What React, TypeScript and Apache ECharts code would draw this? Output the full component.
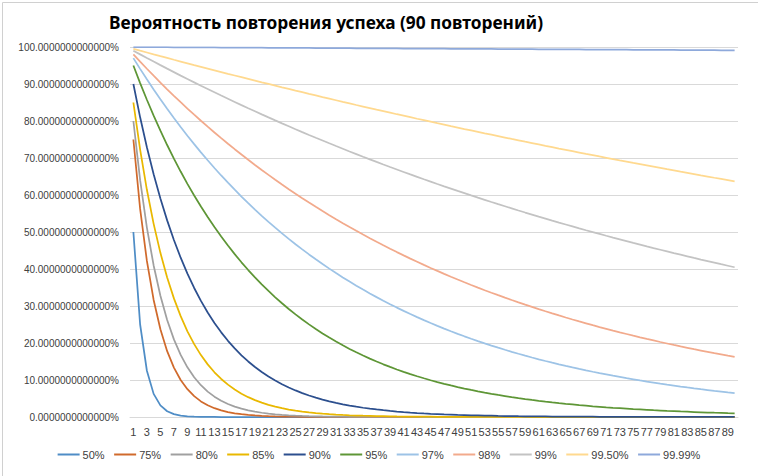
import React, { useEffect, useRef } from "react";
import * as echarts from "echarts";

const categories = [
  "1","2","3","4","5","6","7","8","9","10",
  "11","12","13","14","15","16","17","18","19","20",
  "21","22","23","24","25","26","27","28","29","30",
  "31","32","33","34","35","36","37","38","39","40",
  "41","42","43","44","45","46","47","48","49","50",
  "51","52","53","54","55","56","57","58","59","60",
  "61","62","63","64","65","66","67","68","69","70",
  "71","72","73","74","75","76","77","78","79","80",
  "81","82","83","84","85","86","87","88","89","90",
];

const seriesNames = ["50%", "75%", "80%", "85%", "90%", "95%", "97%", "98%", "99%", "99.50%", "99.99%"];

const s50 = [
  50, 25, 12.5, 6.25, 3.13, 1.56, 0.78, 0.39, 0.2, 0.1,
  0.05, 0.02, 0.01, 0, 0, 0, 0, 0, 0, 0,
  0, 0, 0, 0, 0, 0, 0, 0, 0, 0,
  0, 0, 0, 0, 0, 0, 0, 0, 0, 0,
  0, 0, 0, 0, 0, 0, 0, 0, 0, 0,
  0, 0, 0, 0, 0, 0, 0, 0, 0, 0,
  0, 0, 0, 0, 0, 0, 0, 0, 0, 0,
  0, 0, 0, 0, 0, 0, 0, 0, 0, 0,
  0, 0, 0, 0, 0, 0, 0, 0, 0, 0,
];

const s75 = [
  75, 56.25, 42.19, 31.64, 23.73, 17.8, 13.35, 10.01, 7.51, 5.63,
  4.22, 3.17, 2.38, 1.78, 1.34, 1, 0.75, 0.56, 0.42, 0.32,
  0.24, 0.18, 0.13, 0.1, 0.08, 0.06, 0.04, 0.03, 0.02, 0.02,
  0.01, 0.01, 0.01, 0, 0, 0, 0, 0, 0, 0,
  0, 0, 0, 0, 0, 0, 0, 0, 0, 0,
  0, 0, 0, 0, 0, 0, 0, 0, 0, 0,
  0, 0, 0, 0, 0, 0, 0, 0, 0, 0,
  0, 0, 0, 0, 0, 0, 0, 0, 0, 0,
  0, 0, 0, 0, 0, 0, 0, 0, 0, 0,
];

const s80 = [
  80, 64, 51.2, 40.96, 32.77, 26.21, 20.97, 16.78, 13.42, 10.74,
  8.59, 6.87, 5.5, 4.4, 3.52, 2.81, 2.25, 1.8, 1.44, 1.15,
  0.92, 0.74, 0.59, 0.47, 0.38, 0.3, 0.24, 0.19, 0.15, 0.12,
  0.1, 0.08, 0.06, 0.05, 0.04, 0.03, 0.03, 0.02, 0.02, 0.01,
  0.01, 0.01, 0.01, 0, 0, 0, 0, 0, 0, 0,
  0, 0, 0, 0, 0, 0, 0, 0, 0, 0,
  0, 0, 0, 0, 0, 0, 0, 0, 0, 0,
  0, 0, 0, 0, 0, 0, 0, 0, 0, 0,
  0, 0, 0, 0, 0, 0, 0, 0, 0, 0,
];

const s85 = [
  85, 72.25, 61.41, 52.2, 44.37, 37.71, 32.06, 27.25, 23.16, 19.69,
  16.73, 14.22, 12.09, 10.28, 8.74, 7.43, 6.31, 5.36, 4.56, 3.88,
  3.29, 2.8, 2.38, 2.02, 1.72, 1.46, 1.24, 1.06, 0.9, 0.76,
  0.65, 0.55, 0.47, 0.4, 0.34, 0.29, 0.24, 0.21, 0.18, 0.15,
  0.13, 0.11, 0.09, 0.08, 0.07, 0.06, 0.05, 0.04, 0.03, 0.03,
  0.03, 0.02, 0.02, 0.02, 0.01, 0.01, 0.01, 0.01, 0.01, 0,
  0, 0, 0, 0, 0, 0, 0, 0, 0, 0,
  0, 0, 0, 0, 0, 0, 0, 0, 0, 0,
  0, 0, 0, 0, 0, 0, 0, 0, 0, 0,
];

const s90 = [
  90, 81, 72.9, 65.61, 59.05, 53.14, 47.83, 43.05, 38.74, 34.87,
  31.38, 28.24, 25.42, 22.88, 20.59, 18.53, 16.68, 15.01, 13.51, 12.16,
  10.94, 9.85, 8.86, 7.98, 7.18, 6.46, 5.81, 5.23, 4.71, 4.24,
  3.82, 3.43, 3.09, 2.78, 2.5, 2.25, 2.03, 1.83, 1.64, 1.48,
  1.33, 1.2, 1.08, 0.97, 0.87, 0.79, 0.71, 0.64, 0.57, 0.52,
  0.46, 0.42, 0.38, 0.34, 0.3, 0.27, 0.25, 0.22, 0.2, 0.18,
  0.16, 0.15, 0.13, 0.12, 0.11, 0.1, 0.09, 0.08, 0.07, 0.06,
  0.06, 0.05, 0.05, 0.04, 0.04, 0.03, 0.03, 0.03, 0.02, 0.02,
  0.02, 0.02, 0.02, 0.01, 0.01, 0.01, 0.01, 0.01, 0.01, 0.01,
];

const s95 = [
  95, 90.25, 85.74, 81.45, 77.38, 73.51, 69.83, 66.34, 63.02, 59.87,
  56.88, 54.04, 51.33, 48.77, 46.33, 44.01, 41.81, 39.72, 37.74, 35.85,
  34.06, 32.35, 30.74, 29.2, 27.74, 26.35, 25.03, 23.78, 22.59, 21.46,
  20.39, 19.37, 18.4, 17.48, 16.61, 15.78, 14.99, 14.24, 13.53, 12.85,
  12.21, 11.6, 11.02, 10.47, 9.94, 9.45, 8.97, 8.53, 8.1, 7.69,
  7.31, 6.94, 6.6, 6.27, 5.95, 5.66, 5.37, 5.1, 4.85, 4.61,
  4.38, 4.16, 3.95, 3.75, 3.56, 3.39, 3.22, 3.06, 2.9, 2.76,
  2.62, 2.49, 2.37, 2.25, 2.13, 2.03, 1.93, 1.83, 1.74, 1.65,
  1.57, 1.49, 1.42, 1.35, 1.28, 1.21, 1.15, 1.1, 1.04, 0.99,
];

const s97 = [
  97, 94.09, 91.27, 88.53, 85.87, 83.3, 80.8, 78.37, 76.02, 73.74,
  71.53, 69.38, 67.3, 65.28, 63.33, 61.43, 59.58, 57.8, 56.06, 54.38,
  52.75, 51.17, 49.63, 48.14, 46.7, 45.3, 43.94, 42.62, 41.34, 40.1,
  38.9, 37.73, 36.6, 35.5, 34.44, 33.4, 32.4, 31.43, 30.49, 29.57,
  28.69, 27.83, 26.99, 26.18, 25.4, 24.64, 23.9, 23.18, 22.48, 21.81,
  21.16, 20.52, 19.9, 19.31, 18.73, 18.17, 17.62, 17.09, 16.58, 16.08,
  15.6, 15.13, 14.68, 14.24, 13.81, 13.4, 13, 12.61, 12.23, 11.86,
  11.51, 11.16, 10.83, 10.5, 10.19, 9.88, 9.58, 9.3, 9.02, 8.75,
  8.49, 8.23, 7.98, 7.74, 7.51, 7.29, 7.07, 6.86, 6.65, 6.45,
];

const s98 = [
  98, 96.04, 94.12, 92.24, 90.39, 88.58, 86.81, 85.08, 83.37, 81.71,
  80.07, 78.47, 76.9, 75.36, 73.86, 72.38, 70.93, 69.51, 68.12, 66.76,
  65.43, 64.12, 62.83, 61.58, 60.35, 59.14, 57.96, 56.8, 55.66, 54.55,
  53.46, 52.39, 51.34, 50.31, 49.31, 48.32, 47.35, 46.41, 45.48, 44.57,
  43.68, 42.8, 41.95, 41.11, 40.29, 39.48, 38.69, 37.92, 37.16, 36.42,
  35.69, 34.97, 34.27, 33.59, 32.92, 32.26, 31.61, 30.98, 30.36, 29.76,
  29.16, 28.58, 28.01, 27.45, 26.9, 26.36, 25.83, 25.32, 24.81, 24.31,
  23.83, 23.35, 22.88, 22.43, 21.98, 21.54, 21.11, 20.69, 20.27, 19.87,
  19.47, 19.08, 18.7, 18.32, 17.96, 17.6, 17.24, 16.9, 16.56, 16.23,
];

const s99 = [
  99, 98.01, 97.03, 96.06, 95.1, 94.15, 93.21, 92.27, 91.35, 90.44,
  89.53, 88.64, 87.75, 86.87, 86.01, 85.15, 84.29, 83.45, 82.62, 81.79,
  80.97, 80.16, 79.36, 78.57, 77.78, 77, 76.23, 75.47, 74.72, 73.97,
  73.23, 72.5, 71.77, 71.06, 70.34, 69.64, 68.94, 68.25, 67.57, 66.9,
  66.23, 65.56, 64.91, 64.26, 63.62, 62.98, 62.35, 61.73, 61.11, 60.5,
  59.89, 59.29, 58.7, 58.11, 57.53, 56.96, 56.39, 55.82, 55.26, 54.71,
  54.16, 53.62, 53.08, 52.55, 52.03, 51.51, 50.99, 50.48, 49.98, 49.48,
  48.98, 48.49, 48.01, 47.53, 47.05, 46.58, 46.11, 45.65, 45.2, 44.75,
  44.3, 43.86, 43.42, 42.98, 42.55, 42.13, 41.71, 41.29, 40.88, 40.47,
];

const s995 = [
  99.5, 99, 98.51, 98.01, 97.52, 97.04, 96.55, 96.07, 95.59, 95.11,
  94.64, 94.17, 93.7, 93.23, 92.76, 92.3, 91.84, 91.38, 90.92, 90.46,
  90.01, 89.56, 89.11, 88.67, 88.22, 87.78, 87.34, 86.91, 86.47, 86.04,
  85.61, 85.18, 84.76, 84.33, 83.91, 83.49, 83.07, 82.66, 82.25, 81.83,
  81.43, 81.02, 80.61, 80.21, 79.81, 79.41, 79.02, 78.62, 78.23, 77.83,
  77.45, 77.06, 76.67, 76.29, 75.91, 75.53, 75.15, 74.78, 74.4, 74.03,
  73.66, 73.29, 72.93, 72.56, 72.2, 71.84, 71.48, 71.12, 70.77, 70.41,
  70.06, 69.71, 69.36, 69.02, 68.67, 68.33, 67.99, 67.65, 67.31, 66.97,
  66.64, 66.3, 65.97, 65.64, 65.31, 64.99, 64.66, 64.34, 64.02, 63.7,
];

const s9999 = [
  99.99, 99.98, 99.97, 99.96, 99.95, 99.94, 99.93, 99.92, 99.91, 99.9,
  99.89, 99.88, 99.87, 99.86, 99.85, 99.84, 99.83, 99.82, 99.81, 99.8,
  99.79, 99.78, 99.77, 99.76, 99.75, 99.74, 99.73, 99.72, 99.71, 99.7,
  99.69, 99.68, 99.67, 99.66, 99.65, 99.64, 99.63, 99.62, 99.61, 99.6,
  99.59, 99.58, 99.57, 99.56, 99.55, 99.54, 99.53, 99.52, 99.51, 99.5,
  99.49, 99.48, 99.47, 99.46, 99.45, 99.44, 99.43, 99.42, 99.41, 99.4,
  99.39, 99.38, 99.37, 99.36, 99.35, 99.34, 99.33, 99.32, 99.31, 99.3,
  99.29, 99.28, 99.27, 99.26, 99.25, 99.24, 99.23, 99.22, 99.21, 99.2,
  99.19, 99.18, 99.17, 99.16, 99.15, 99.14, 99.13, 99.12, 99.11, 99.1,
];

const seriesData = [s50, s75, s80, s85, s90, s95, s97, s98, s99, s995, s9999];

const colors = [
  "#4F8DC6", "#D06A2C", "#A0A0A0", "#E9B800", "#2C4F8E", "#5E9636",
  "#9DC3E6", "#F2AA8C", "#C3C3C3", "#FFD98F", "#8EA9DB",
];

const labelFont = "Liberation Sans, sans-serif";

export default function App() {
  const ref = useRef<HTMLDivElement>(null);
  useEffect(() => {
    const chart = echarts.init(ref.current!, null, { renderer: "svg" });
    chart.setOption({
      animation: false,
      backgroundColor: "#ffffff",
      color: colors,
      title: {
        text: "Вероятность повторения успеха (90 повторений)",
        left: 104,
        top: 9,
        textStyle: {
          fontFamily: "Noto Sans",
          fontWeight: "bold",
          fontSize: 17.3,
          color: "#000000",
        },
      },
      graphic: [
        {
          type: "rect",
          left: 0,
          top: 0,
          shape: { x: 0.5, y: 0.5, width: 757, height: 475 },
          style: { fill: "none", stroke: "#D0D0D0", lineWidth: 1 },
          silent: true,
        },
      ],
      grid: { left: 130, right: 20, top: 47, bottom: 59 },
      xAxis: {
        type: "category",
        data: categories,
        boundaryGap: true,
        axisLine: { lineStyle: { color: "#D9D9D9" } },
        axisTick: { show: false },
        axisLabel: {
          interval: 1,
          fontSize: 11,
          color: "#404040",
          margin: 9,
          fontFamily: labelFont,
        },
      },
      yAxis: {
        type: "value",
        min: 0,
        max: 100,
        interval: 10,
        axisLine: { show: false },
        axisTick: { show: false },
        splitLine: { lineStyle: { color: "#D9D9D9" } },
        axisLabel: {
          formatter: (v: number) => v.toFixed(13) + "%",
          fontSize: 10,
          color: "#404040",
          margin: 11,
          fontFamily: labelFont,
        },
      },
      legend: {
        bottom: 11,
        left: "center",
        icon: "rect",
        itemWidth: 22,
        itemHeight: 2,
        itemGap: 9.5,
        textStyle: {
          fontSize: 11,
          color: "#404040",
          padding: [0, 0, 0, -2],
          fontFamily: labelFont,
        },
        data: seriesNames,
      },
      series: seriesNames.map((name, i) => ({
        name,
        type: "line",
        data: seriesData[i],
        symbol: "none",
        lineStyle: { width: 1.75, color: colors[i] },
        itemStyle: { color: colors[i] },
      })),
    });
    return () => chart.dispose();
  }, []);
  return (
    <div
      ref={ref}
      style={{ position: "fixed", left: 0, top: 0, width: 758, height: 476, background: "#fff" }}
    />
  );
}
